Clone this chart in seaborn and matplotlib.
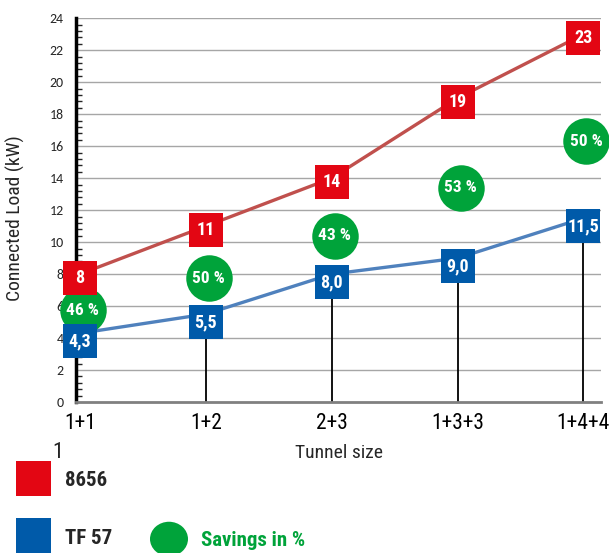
import numpy as np
import pandas as pd
import matplotlib.pyplot as plt
import seaborn as sns
from matplotlib.ticker import MultipleLocator
from matplotlib.transforms import ScaledTranslation

sizes = ['1+1', '1+2', '2+3', '1+3+3', '1+4+4']
load_8656 = [8, 11, 14, 19, 23]
load_tf57 = [4.3, 5.5, 8.0, 9.0, 11.5]
label_8656 = ['8', '11', '14', '19', '23']
label_tf57 = ['4,3', '5,5', '8,0', '9,0', '11,5']
savings_pos = [5.75, 7.75, 10.4, 13.4, 16.3]
savings = ['46 %', '50 %', '43 %', '53 %', '50 %']

RED = '#e30613'
BLUE = '#005aa9'
GREEN = '#00a33a'
cond = ['Roboto Condensed', 'DejaVu Sans']

sns.set_style('white')
plt.rcParams['font.family'] = ['Carlito', 'Liberation Sans', 'DejaVu Sans']

df = pd.DataFrame({'size': range(len(sizes)), '8656': load_8656, 'TF 57': load_tf57,
                   'sav': savings_pos})

fig = plt.figure(figsize=(6.09, 5.53), dpi=100)
ax = fig.add_axes([0.125, 0.273, 0.862, 0.694])

# grid
for v in range(2, 25, 2):
    ax.axhline(v, color='#a6a6a6', lw=1, zorder=0)

sns.lineplot(data=df, x='size', y='8656', color='#c0504d', lw=2.4, ax=ax, zorder=2)
sns.lineplot(data=df, x='size', y='TF 57', color='#4f81bd', lw=2.4, ax=ax, zorder=2)

# stems below blue markers
ax.vlines(df['size'][1:], 0, df['TF 57'][1:], color='black', lw=1.3, zorder=1)

down_red = ax.transData + ScaledTranslation(0, -4 / 100, fig.dpi_scale_trans)
down_blue = ax.transData + ScaledTranslation(0, -8 / 100, fig.dpi_scale_trans)
right_sav = ax.transData + ScaledTranslation(3 / 100, 0, fig.dpi_scale_trans)

sns.scatterplot(data=df, x='size', y='sav', s=1120, color=GREEN, linewidth=0, ax=ax,
                zorder=3, clip_on=False)
ax.collections[-1].set_offset_transform(right_sav)
sns.scatterplot(data=df, x='size', y='8656', marker='s', s=600, color=RED, linewidth=0, ax=ax,
                zorder=4, clip_on=False)
ax.collections[-1].set_offset_transform(down_red)
sns.scatterplot(data=df, x='size', y='TF 57', marker='s', s=600, color=BLUE, linewidth=0, ax=ax,
                zorder=4, clip_on=False)
ax.collections[-1].set_offset_transform(down_blue)

for i in range(len(sizes)):
    ax.text(i, savings_pos[i], savings[i], ha='center', va='center', color='white',
            fontsize=12.5, fontweight='bold', family=cond, zorder=5, transform=right_sav,
            clip_on=False)
    ax.text(i, load_8656[i], label_8656[i], ha='center', va='center', color='white',
            fontsize=13, fontweight='bold', family=cond, zorder=5, transform=down_red,
            clip_on=False)
    ax.text(i, load_tf57[i], label_tf57[i], ha='center', va='center', color='white',
            fontsize=13, fontweight='bold', family=cond, zorder=5, transform=down_blue,
            clip_on=False)

ax.set_xlim(-0.03, 4.14)
ax.set_ylim(0, 24)
ax.set_xticks(range(len(sizes)))
ax.set_xticklabels(sizes, family=cond, fontsize=15.5)
shift = ScaledTranslation(-7 / 100, 0, fig.dpi_scale_trans)
for lab in ax.get_xticklabels():
    lab.set_transform(lab.get_transform() + shift)
ax.yaxis.set_major_locator(MultipleLocator(2))
ax.yaxis.set_minor_locator(MultipleLocator(0.4))
ax.tick_params(axis='y', which='major', direction='out', length=5, width=1.2, labelsize=10, pad=4)
ax.tick_params(axis='y', which='minor', direction='in', length=4, width=1, left=True)
ax.tick_params(axis='x', direction='out', length=3, width=1, colors='black', pad=5)
for s in ['top', 'right']:
    ax.spines[s].set_visible(False)
ax.spines['left'].set_linewidth(2.5)
ax.spines['left'].set_color('black')
ax.spines['bottom'].set_color('#808080')
ax.spines['bottom'].set_linewidth(2)
ax.set_xlabel('Tunnel size', family=cond, fontsize=14, labelpad=7)
ax.set_ylabel('Connected Load (kW)', family=cond, fontsize=14)
ax.yaxis.set_label_coords(-0.097, 0.48)

fig.text(58 / 609, 1 - 452 / 553, '1', family=cond, fontsize=16, ha='center', va='center')

# legend
fig.patches.append(plt.Rectangle((16 / 609, 1 - 496 / 553), 35 / 609, 35 / 553,
                                 transform=fig.transFigure, fc=RED, ec='none'))
fig.patches.append(plt.Rectangle((16 / 609, 1 - 553 / 553), 35 / 609, 35 / 553,
                                 transform=fig.transFigure, fc=BLUE, ec='none'))
fig.text(65 / 609, 1 - 481 / 553, '8656', family=cond, fontsize=15, fontweight='bold', va='center')
fig.text(65 / 609, 1 - 539 / 553, 'TF 57', family=cond, fontsize=15, fontweight='bold', va='center')
fig.patches.append(plt.Circle((169 / 609, 1 - 539 / 553), 19 / 609, transform=fig.transFigure,
                              fc=GREEN, ec='none'))
fig.text(201 / 609, 1 - 541 / 553, 'Savings in %', family=cond, fontsize=15, fontweight='bold',
         color=GREEN, va='center')

fig.savefig('out.png', dpi=100)
